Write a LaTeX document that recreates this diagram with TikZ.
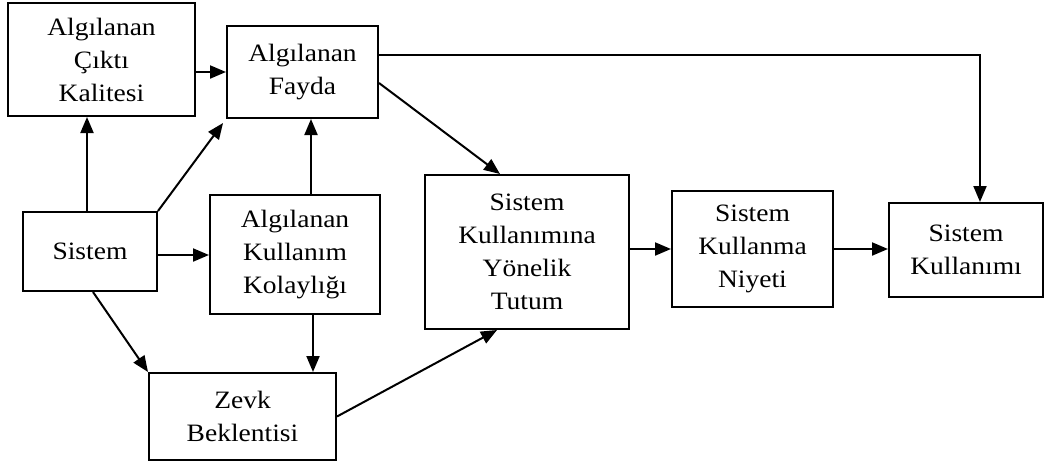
\documentclass[tikz,border=0pt]{standalone}
\usepackage{fontspec}
\setmainfont{Liberation Serif}[FakeStretch=1.1]
\usetikzlibrary{arrows.meta}
\begin{document}
\begin{tikzpicture}[x=1pt,y=-1pt,
  box/.style={draw, line width=2pt, align=center, inner sep=0pt, font=\fontsize{25}{33}\selectfont},
  arr/.style={-{Triangle[length=16pt,width=13pt]}, line width=2pt}]
\useasboundingbox (0,0) rectangle (1047,466);
\node[box, minimum width=187pt, minimum height=113pt] (kalite) at (101.5,59.5) {Algılanan\\Çıktı\\Kalitesi};
\node[box, minimum width=151pt, minimum height=92pt] (fayda) at (302.5,72) {Algılanan\\Fayda};
\node[box, minimum width=134pt, minimum height=79pt] (sistem) at (90,251.5) {Sistem};
\node[box, minimum width=170pt, minimum height=119pt] (kolay) at (295,254.5) {Algılanan\\Kullanım\\Kolaylığı};
\node[box, minimum width=187pt, minimum height=87pt] (zevk) at (242.5,416.5) {Zevk\\Beklentisi};
\node[box, minimum width=204pt, minimum height=154pt] (tutum) at (527,252) {Sistem\\Kullanımına\\Yönelik\\Tutum};
\node[box, minimum width=161pt, minimum height=116pt] (niyet) at (752.5,249) {Sistem\\Kullanma\\Niyeti};
\node[box, minimum width=154pt, minimum height=94pt] (kullanim) at (966,250) {Sistem\\Kullanımı};
% arrows
\draw[arr] ([xshift=-3pt]sistem.north) -- ([xshift=-3pt]sistem.north |- kalite.south);
\draw[arr] (kalite.east |- fayda.west) -- (fayda.west);
\draw[arr, shorten >=5pt] (sistem.north east) -- (fayda.south west);
\draw[arr] ([xshift=16pt]kolay.north) -- ([xshift=16pt]kolay.north |- fayda.south);
\draw[arr] ([yshift=-0.5pt]sistem.east |- kolay.west) -- ([yshift=-0.5pt]kolay.west);
\draw[arr] ([xshift=3pt]sistem.south) -- (zevk.north west);
\draw[arr] ([xshift=18pt]kolay.south) -- ([xshift=18pt]kolay.south |- zevk.north);
\draw[arr] (zevk.east) -- ([xshift=-30pt]tutum.south);
\draw[arr] ([yshift=-11pt]fayda.east) -- ([xshift=-27pt]tutum.north);
\draw[arr] ([yshift=17pt]fayda.east) -| ([xshift=14pt]kullanim.north);
\draw[arr] (tutum.east |- niyet.west) -- (niyet.west);
\draw[arr] (niyet.east) -- (niyet.east -| kullanim.west);
\end{tikzpicture}
\end{document}
